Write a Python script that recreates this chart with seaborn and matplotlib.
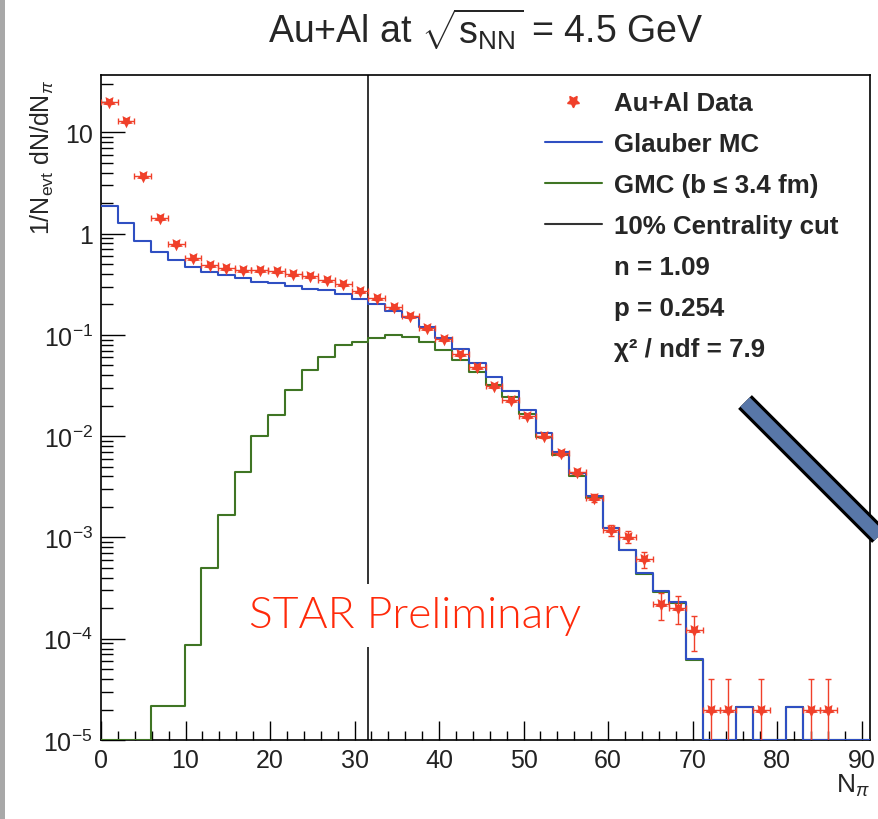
import numpy as np
import pandas as pd
import seaborn as sns
import matplotlib.pyplot as plt
from matplotlib.lines import Line2D
from matplotlib.patches import Rectangle
from matplotlib.ticker import MultipleLocator, LogLocator, FuncFormatter

sns.set_style('ticks')
plt.rcParams['font.family'] = ['Liberation Sans', 'DejaVu Sans']
plt.rcParams['mathtext.fontset'] = 'custom'
plt.rcParams['mathtext.rm'] = 'Liberation Sans'
plt.rcParams['mathtext.it'] = 'Liberation Sans:italic'
plt.rcParams['mathtext.bf'] = 'Liberation Sans:bold'

# N_pi binning: 46 bins over 0 - 91
bin_edges = np.linspace(0, 91, 47)

# Au+Al data (per bin, nan = empty bin)
data_vals = [19.8, 13.0, 3.72, 1.41, 0.796, 0.569, 0.485, 0.461, 0.436, 0.436,
             0.426, 0.395, 0.38, 0.347, 0.315, 0.27, 0.232, 0.189, 0.155, 0.117,
             0.091, 0.0653, 0.0482, 0.0315, 0.0225, 0.0159, 0.0101, 0.0068, 0.0044, 0.00245,
             0.00118, 0.00102, 6.1e-4, 2.19e-4, 2.03e-4, 1.22e-4, 2.0e-5, 2.0e-5, np.nan, 2.0e-5,
             np.nan, np.nan, 2.0e-5, 2.0e-5, np.nan, np.nan]
data_errs = [0.02, 0.016, 0.0085, 0.0052, 0.0039, 0.0033, 0.0031, 0.003, 0.0029, 0.0029,
             0.0029, 0.0028, 0.0027, 0.0026, 0.0025, 0.0023, 0.0021, 0.0019, 0.0017, 0.0015,
             0.0013, 0.0011, 0.00097, 0.00078, 0.00066, 0.00056, 0.00044, 0.00036, 0.0003, 0.00022,
             0.00015, 0.00014, 0.00011, 6.5e-5, 6.3e-5, 4.7e-5, 2.0e-5, 2.0e-5, 0, 2.0e-5,
             0, 0, 2.0e-5, 2.0e-5, 0, 0]

# Glauber MC (all events)
glauber_vals = [1.88, 1.28, 0.845, 0.663, 0.548, 0.467, 0.421, 0.387, 0.361, 0.332,
                0.322, 0.303, 0.285, 0.277, 0.251, 0.227, 0.2, 0.174, 0.149, 0.12,
                0.0934, 0.0731, 0.0528, 0.038, 0.0277, 0.018, 0.0107, 0.0069, 0.0043, 0.00256,
                0.00125, 7.6e-4, 4.5e-4, 2.96e-4, 2.3e-4, 6.3e-5, 0, 0, 2.1e-5, 0,
                0, 2.1e-5, 0, 0, 0, 0]

# GMC with b <= 3.4 fm
gmc_vals = [0, 0, 0, 2.17e-5, 2.17e-5, 8.7e-5, 5.04e-4, 1.66e-3, 4.47e-3, 0.00998,
            0.0162, 0.0288, 0.0447, 0.0605, 0.0802, 0.0859, 0.094, 0.1007, 0.095, 0.085,
            0.0715, 0.057, 0.0426, 0.0322, 0.0241, 0.0166, 0.0098, 0.0065, 0.00404, 0.00243,
            0.00123, 7.5e-4, 4.4e-4, 2.9e-4, 2.25e-4, 6.2e-5, 0, 0, 2.1e-5, 0,
            0, 2.1e-5, 0, 0, 0, 0]

cut_position = 31.65
legend_labels = ['Au+Al Data', 'Glauber MC', 'GMC (b \u2264 3.4 fm)', '10% Centrality cut',
                 'n = 1.09', 'p = 0.254', '\u03c7\u00b2 / ndf = 7.9']

y_min, y_max = 1e-5, 36.8
red = '#f0402a'
blue = '#2f4fc2'
green = '#3f7524'

bin_width = bin_edges[1] - bin_edges[0]
centers = bin_edges[:-1] + bin_width / 2


def step_frame(vals):
    # repeat last value so the final bin is closed; empty bins sit on the axis floor
    y = np.append(vals, vals[-1])
    return pd.DataFrame({'x': bin_edges, 'y': np.maximum(y, y_min)})


fig = plt.figure(figsize=(8.79, 8.20), dpi=100)
ax = fig.add_axes([101 / 879, 1 - 741 / 820, 769 / 879, 665 / 820])

sns.lineplot(data=step_frame(gmc_vals), x='x', y='y', drawstyle='steps-post', color=green,
             lw=1.5, estimator=None, sort=False, ax=ax, zorder=3)
sns.lineplot(data=step_frame(glauber_vals), x='x', y='y', drawstyle='steps-post', color=blue,
             lw=1.5, estimator=None, sort=False, ax=ax, zorder=4)

# data points with error bars
pts = pd.DataFrame({'x': centers, 'y': data_vals, 'err': data_errs}).dropna()
ax.errorbar(pts['x'], pts['y'], yerr=pts['err'], xerr=bin_width / 2, fmt='none',
            ecolor=red, elinewidth=1.0, capsize=2.5, capthick=1.0, zorder=5)
sns.scatterplot(data=pts, x='x', y='y', marker=(5, 1, 180), s=95, color=red,
                linewidth=0, ax=ax, zorder=6)

# 10% centrality cut
ax.axvline(cut_position, color='#333333', lw=1.4, zorder=2)

ax.set_yscale('log')
ax.set_xlim(0, 91)
ax.set_ylim(y_min, y_max)

ax.xaxis.set_major_locator(MultipleLocator(10))
ax.xaxis.set_minor_locator(MultipleLocator(2))
ax.yaxis.set_major_locator(LogLocator(base=10))
ax.yaxis.set_minor_locator(LogLocator(base=10, subs=np.arange(2, 10)))


def log_label(v, pos):
    e = int(round(np.log10(v)))
    if e == 0:
        return '1'
    if e == 1:
        return '10'
    return r'$10^{%d}$' % e


ax.yaxis.set_major_formatter(FuncFormatter(log_label))
ax.tick_params(axis='both', which='both', direction='in', top=False, right=False,
               color='black', width=1.0, labelsize=18, labelcolor='#222222')
ax.tick_params(axis='x', which='major', length=13.5, pad=6)
ax.tick_params(axis='x', which='minor', length=6.5)
ax.tick_params(axis='y', which='major', length=17, pad=6)
ax.tick_params(axis='y', which='minor', length=8.5)
for s in ax.spines.values():
    s.set_linewidth(1.2)
    s.set_color('black')

ax.set_xlabel(r'N$_{\pi}$', fontsize=19, loc='right')
ax.xaxis.set_label_coords(1.0, -0.048)
ax.set_ylabel(r'1/N$_{\mathrm{evt}}$ dN/dN$_{\pi}$', fontsize=18, loc='top')
ax.yaxis.set_label_coords(-0.058, 0.994)

fig.text(0.552, 1 - 30 / 820, r'Au+Al at $\sqrt{\mathrm{s}_{\mathrm{NN}}}$ = 4.5 GeV',
         ha='center', va='center', fontsize=27)

# legend
handles = [Line2D([], [], ls='none', marker=(5, 1, 180), color=red, markersize=9),
           Line2D([], [], color=blue, lw=1.5),
           Line2D([], [], color=green, lw=1.5),
           Line2D([], [], color='#333333', lw=1.5)] + \
          [Line2D([], [], ls='none') for _ in range(3)]
ax.legend(handles, legend_labels, loc='upper left', bbox_to_anchor=(545 / 879, 1 - 92 / 820),
          bbox_transform=fig.transFigure, frameon=False, prop={'weight': 'bold', 'size': 18.6},
          handlelength=2.2, handletextpad=0.46, labelspacing=0.66, borderpad=0, borderaxespad=0,
          numpoints=1)

ax.text(0.1925, 0.17, 'STAR Preliminary', transform=ax.transAxes, fontsize=32,
        family=['Lato', 'DejaVu Sans'], weight=300, color='#ff2a0a', va='baseline', ha='left',
        bbox=dict(facecolor='white', edgecolor='none', pad=9), zorder=7)

# slide decorations: grey strip at left edge and the thick diagonal bar
fig.add_artist(Rectangle((0, 0), 5 / 879, 1, transform=fig.transFigure,
                         facecolor='#a8a8a8', edgecolor='none'))
bar_x = [745 / 879, 905 / 879]
bar_y = [1 - 403 / 820, 1 - 563 / 820]
fig.add_artist(Line2D(bar_x, bar_y, transform=fig.transFigure, color='black', lw=14,
                      solid_capstyle='butt', zorder=10))
fig.add_artist(Line2D(bar_x, bar_y, transform=fig.transFigure, color='#5877a8', lw=9.5,
                      solid_capstyle='butt', zorder=11))

fig.savefig('out.png', dpi=100)
